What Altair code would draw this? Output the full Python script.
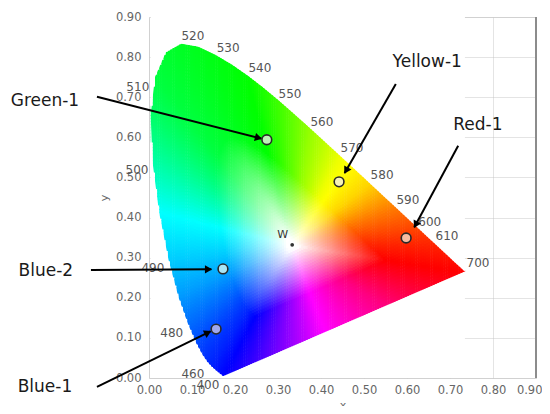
import math
import colorsys
import numpy as np
import pandas as pd
import altair as alt

# ---- CIE 1931 spectral locus (as in the picture) ----
wl = [380, 400, 410, 420, 430, 440, 450, 460, 465, 470, 475, 480, 485, 490, 495,
      500, 505, 510, 515, 520, 525, 530, 535, 540, 545, 550, 555, 560, 565, 570,
      575, 580, 585, 590, 595, 600, 605, 610, 620, 630, 640, 650, 660, 680, 700]
loc_x = [0.1741, 0.1733, 0.1726, 0.1714, 0.1689, 0.1644, 0.1566, 0.1440, 0.1355, 0.1241,
         0.1096, 0.0913, 0.0687, 0.0454, 0.0235, 0.0082, 0.0039, 0.0139, 0.0389, 0.0743,
         0.1142, 0.1547, 0.1929, 0.2296, 0.2658, 0.3016, 0.3373, 0.3731, 0.4087, 0.4441,
         0.4788, 0.5125, 0.5448, 0.5752, 0.6029, 0.6270, 0.6482, 0.6658, 0.6915, 0.7079,
         0.7190, 0.7260, 0.7300, 0.7334, 0.7347]
loc_y = [0.0050, 0.0048, 0.0048, 0.0051, 0.0069, 0.0109, 0.0177, 0.0297, 0.0399, 0.0578,
         0.0868, 0.1327, 0.2007, 0.2950, 0.4127, 0.5384, 0.6548, 0.7502, 0.8120, 0.8338,
         0.8262, 0.8059, 0.7816, 0.7543, 0.7243, 0.6923, 0.6589, 0.6245, 0.5896, 0.5547,
         0.5202, 0.4866, 0.4544, 0.4242, 0.3965, 0.3725, 0.3514, 0.3340, 0.3083, 0.2920,
         0.2809, 0.2740, 0.2700, 0.2666, 0.2653]

# wavelength labels
wl_labels = ["520", "530", "540", "550", "560", "570", "580", "590", "600", "610", "700",
             "510", "500", "490", "480", "460", "400"]
wl_lx = [0.102, 0.184, 0.258, 0.328, 0.402, 0.472, 0.542, 0.602, 0.653, 0.693, 0.765,
         -0.026, -0.028, 0.009, 0.053, 0.102, 0.137]
wl_ly = [0.853, 0.823, 0.773, 0.708, 0.638, 0.574, 0.506, 0.444, 0.389, 0.354, 0.287,
         0.726, 0.519, 0.274, 0.112, 0.010, -0.017]

# measured points
pt_names = ["Green-1", "Yellow-1", "Red-1", "Blue-2", "Blue-1"]
pt_x = [0.274, 0.442, 0.598, 0.172, 0.156]
pt_y = [0.594, 0.489, 0.349, 0.272, 0.122]
pt_fill = ["#bff2b8", "#f6f2b4", "#f7bca2", "#a8e6f6", "#9fa8ee"]

# annotations
ann_text_x = [-0.242, 0.647, 0.765, -0.240, -0.242]
ann_text_y = [0.691, 0.788, 0.631, 0.267, -0.022]
arrow_x0 = [-0.121, 0.574, 0.719, -0.135, -0.121]
arrow_y0 = [0.701, 0.733, 0.579, 0.269, -0.022]
arrow_x1 = [0.261, 0.455, 0.617, 0.145, 0.143]
arrow_y1 = [0.597, 0.511, 0.376, 0.271, 0.116]

white_x = [0.333]
white_y = [0.332]

ticks = [0.0, 0.1, 0.2, 0.3, 0.4, 0.5, 0.6, 0.7, 0.8, 0.9]

# hue seen at each direction (degrees) around the white point
dir_deg = [0, 20.6, 40.5, 63.4, 82, 95, 104, 127.5, 147.7, 165, 187.5, 205, 219.6, 238,
           244, 263, 287, 325, 350.4, 360]
dir_hue = [8, 28, 50, 64, 85, 105, 120, 135, 160, 180, 192, 203, 215, 232,
           240, 268, 298, 330, 360, 368]

W, H = 387, 361
PX = W / 0.9
PY = H / 0.9

# ---- colour field inside the locus ----
up_x = loc_x[16:]
up_y = loc_y[16:]
lo_x = loc_x[16::-1] + [loc_x[-1]]
lo_y = loc_y[16::-1] + [loc_y[-1]]

# boundary radius around white point as a function of direction
wx0, wy0 = white_x[0], white_y[0]
px_, py_ = [], []
poly_x = loc_x + [loc_x[0]]
poly_y = loc_y + [loc_y[0]]
for k in range(len(poly_x) - 1):
    for t in np.linspace(0, 1, 40, endpoint=False):
        px_.append(poly_x[k] + t * (poly_x[k + 1] - poly_x[k]))
        py_.append(poly_y[k] + t * (poly_y[k + 1] - poly_y[k]))
px_ = np.array(px_)
py_ = np.array(py_)
b_ang = np.degrees(np.arctan2(py_ - wy0, px_ - wx0)) % 360
b_rad = np.hypot(px_ - wx0, py_ - wy0)
order = np.argsort(b_ang)
b_ang = b_ang[order]
b_rad = b_rad[order]


def colour_at(x, y):
    a = math.degrees(math.atan2(y - wy0, x - wx0)) % 360
    r = math.hypot(x - wx0, y - wy0)
    R = float(np.interp(a, b_ang, b_rad, period=360))
    s = r / R
    f = min(1.0, max(0.0, (s - 0.04) / 0.5)) ** 0.95
    hue = (float(np.interp(a, dir_deg, dir_hue)) % 360) / 360.0
    rr, gg, bb = colorsys.hsv_to_rgb(hue, f, 1.0)
    return "#%02x%02x%02x" % (int(round(rr * 255)), int(round(gg * 255)), int(round(bb * 255)))


dx, dy = 0.005, 0.008
rows = []
xs = np.arange(up_x[0], up_x[-1], dx)
for i, x0 in enumerate(xs):
    x1 = min(x0 + dx, up_x[-1])
    xc = (x0 + x1) / 2
    ylo = float(np.interp(xc, lo_x, lo_y))
    yhi = float(np.interp(xc, up_x, up_y))
    n = max(1, int(math.ceil((yhi - ylo) / dy)))
    h = (yhi - ylo) / n
    for j in range(n):
        a = ylo + j * h
        b = a + h
        rows.append({"x": x0, "x2": x1 + (0.0012 if i < len(xs) - 1 else 0),
                     "y": a - (0.002 if j > 0 else 0), "y2": b,
                     "c": colour_at(xc, (a + b) / 2)})
field = pd.DataFrame(rows)

xs_scale = alt.Scale(domain=[0, 0.9], nice=False, zero=False)
ys_scale = alt.Scale(domain=[0, 0.9], nice=False, zero=False)

last_test = "datum.value >= 0.89"
xax = alt.Axis(values=ticks, format=".2f", title="x", grid=True, ticks=False, domain=False,
               labelPadding=6, titlePadding=4, labelFlush=False,
               labelAlign={"condition": {"test": last_test, "value": "right"}, "value": "center"},
               labelOffset={"condition": {"test": last_test, "value": 6}, "value": 0})
yax = alt.Axis(values=ticks, format=".2f", title="y", grid=True, ticks=False, domain=False,
               labelPadding=8, titlePadding=6, labelFlush=False)

colour = alt.Chart(field).mark_rect(strokeWidth=0).encode(
    x=alt.X("x:Q", scale=xs_scale, axis=xax),
    x2="x2:Q",
    y=alt.Y("y:Q", scale=ys_scale, axis=yax),
    y2="y2:Q",
    color=alt.Color("c:N", scale=None),
)

mask_up = alt.Chart(pd.DataFrame({"x": up_x, "y": up_y})).mark_area(
    color="white", opacity=1).encode(
    x="x:Q", y="y:Q", y2=alt.datum(0.9))
mask_lo = alt.Chart(pd.DataFrame({"x": lo_x, "y": lo_y})).mark_area(
    color="white", opacity=1).encode(
    x="x:Q", y="y:Q", y2=alt.datum(0.0))

border = alt.Chart(pd.DataFrame({"x": [0.9], "y": [0.0], "y2": [0.9]})).mark_rule(
    color="#8c8c8c", strokeWidth=2).encode(x="x:Q", y="y:Q", y2="y2:Q")

wl_df = pd.DataFrame({"t": wl_labels, "x": wl_lx, "y": wl_ly})
wl_text = alt.Chart(wl_df).mark_text(font="DejaVu Sans", fontSize=12, color="#555555").encode(
    x="x:Q", y="y:Q", text="t:N")

w_df = pd.DataFrame({"x": white_x, "y": white_y})
w_dot = alt.Chart(w_df).mark_point(filled=True, size=14, color="#333333", opacity=1).encode(
    x="x:Q", y="y:Q")
w_text = alt.Chart(pd.DataFrame({"x": [white_x[0] - 0.022], "y": [white_y[0] + 0.025], "t": ["W"]})
                   ).mark_text(font="DejaVu Sans", fontSize=11, color="#333333").encode(
    x="x:Q", y="y:Q", text="t:N")

pts = alt.Chart(pd.DataFrame({"x": pt_x, "y": pt_y, "f": pt_fill})).mark_point(
    filled=True, size=95, stroke="#2a2a2a", strokeWidth=1.6, opacity=1).encode(
    x="x:Q", y="y:Q", fill=alt.Fill("f:N", scale=None))

# arrows
ang, hx, hy = [], [], []
for x0, y0, x1, y1 in zip(arrow_x0, arrow_y0, arrow_x1, arrow_y1):
    dxp = (x1 - x0) * PX
    dyp = -(y1 - y0) * PY
    L = math.hypot(dxp, dyp)
    ang.append(math.degrees(math.atan2(dxp, -dyp)) % 360)
    hx.append(x1 - (dxp / L) * 4 / PX)
    hy.append(y1 + (dyp / L) * 4 / PY)
arr_df = pd.DataFrame({"x": arrow_x0, "y": arrow_y0, "x2": arrow_x1, "y2": arrow_y1,
                       "hx": hx, "hy": hy, "a": ang})
lines = alt.Chart(arr_df).mark_rule(color="black", strokeWidth=2).encode(
    x="x:Q", y="y:Q", x2="x2:Q", y2="y2:Q")
heads = alt.Chart(arr_df).mark_point(shape="triangle", filled=True, size=70, color="black",
                                     opacity=1).encode(
    x="hx:Q", y="hy:Q", angle=alt.Angle("a:Q", scale=None))

ann = alt.Chart(pd.DataFrame({"t": pt_names, "x": ann_text_x, "y": ann_text_y})).mark_text(
    font="DejaVu Sans", fontSize=17, color="#1a1a1a").encode(x="x:Q", y="y:Q", text="t:N")

chart = alt.layer(colour, mask_up, mask_lo, border, wl_text, w_dot, w_text, lines, heads, pts,
                  ann).properties(
    width=W, height=H,
    autosize=alt.AutoSizeParams(type="none"),
    padding={"left": 141, "top": 9, "right": 6, "bottom": 28},
).configure_view(stroke="#dddddd").configure_axis(
    zindex=1, gridColor="#c4c4c4", gridOpacity=0.45, labelFont="DejaVu Sans", labelFontSize=11.5,
    labelColor="#666666", titleFont="DejaVu Sans", titleFontSize=11, titleColor="#666666",
    titleFontWeight="normal")

chart.save("out.html", embed_options={"renderer": "svg", "actions": False})
